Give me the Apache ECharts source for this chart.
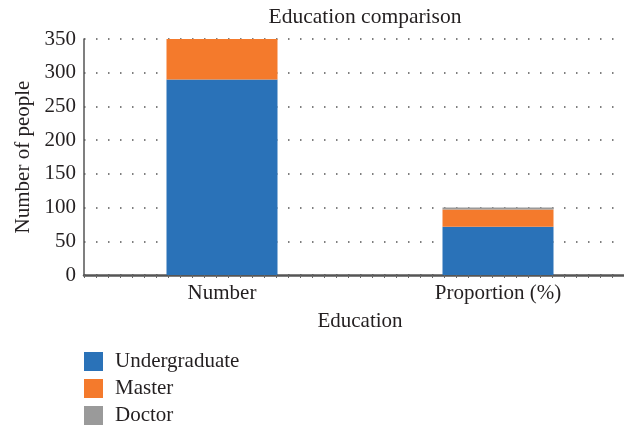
<!DOCTYPE html>
<html>
<head>
<meta charset="utf-8">
<script src="https://cdn.jsdelivr.net/npm/echarts@6/dist/echarts.min.js"></script>
<style>html,body{margin:0;padding:0;background:#fff;}#c{width:624px;height:427px;}</style>
</head>
<body>
<div id="c"></div>
<script>
const categories = ['Number', 'Proportion (%)'];
const seriesNames = ['Undergraduate', 'Master', 'Doctor'];
const undergraduate = [290, 71.4];
const master = [60, 25.7];
const doctor = [0, 2.9];
const yTicks = [0, 50, 100, 150, 200, 250, 300, 350];

const FONT = 'Liberation Serif';
const TXT = '#231f20';
const colors = ['#2a72b8', '#f47a2c', '#9a9a9a'];

const chart = echarts.init(document.getElementById('c'), null, {renderer: 'canvas'});
const dataSets = [undergraduate, master, doctor];
chart.setOption({
  animation: false,
  backgroundColor: '#fff',
  color: colors,
  textStyle: {fontFamily: FONT, color: TXT},
  title: {
    text: 'Education comparison',
    left: 360, top: 1, textAlign: 'center',
    textStyle: {fontFamily: FONT, fontSize: 21.5, fontWeight: 'normal', color: TXT}
  },
  legend: {
    orient: 'vertical', left: 84, top: 351, padding: 0, height: 120,
    itemWidth: 19, itemHeight: 19, itemGap: 6, icon: 'rect',
    data: seriesNames,
    textStyle: {fontFamily: FONT, fontSize: 21, lineHeight: 19, color: TXT, padding: [0, 0, 0, 7]}
  },
  grid: {left: 84, top: 39, width: 552, height: 236, containLabel: false, outerBoundsMode: 'none'},
  xAxis: [{
    type: 'category', data: categories,
    name: 'Education', nameLocation: 'middle', nameGap: 36,
    nameTextStyle: {fontFamily: FONT, fontSize: 21, color: TXT},
    axisLine: {lineStyle: {color: '#555', width: 2.5}},
    axisTick: {show: false},
    axisLabel: {fontFamily: FONT, fontSize: 21, color: TXT, margin: 8}
  }, {
    type: 'value', min: 0, max: 46, interval: 1, position: 'bottom',
    axisLine: {show: false}, axisLabel: {show: false}, splitLine: {show: false},
    axisTick: {show: true, length: 3, lineStyle: {color: '#666', width: 1}}
  }],
  yAxis: {
    type: 'value', min: yTicks[0], max: yTicks[yTicks.length - 1], interval: 50,
    name: 'Number of people', nameLocation: 'middle', nameGap: 41, nameRotate: 90,
    nameTextStyle: {fontFamily: FONT, fontSize: 21, color: TXT},
    axisLine: {show: true, lineStyle: {color: '#555', width: 1.5}},
    axisTick: {show: false},
    axisLabel: {fontFamily: FONT, fontSize: 21, color: TXT, margin: 8},
    splitLine: {show: true, lineStyle: {color: '#555', width: 1.5, type: [1.5, 10.5]}}
  },
  series: seriesNames.map((n, i) => ({
    name: n, type: 'bar', stack: 'edu', xAxisIndex: 0, barWidth: 111,
    data: dataSets[i], itemStyle: {color: colors[i]}
  }))
});
</script>
</body>
</html>
